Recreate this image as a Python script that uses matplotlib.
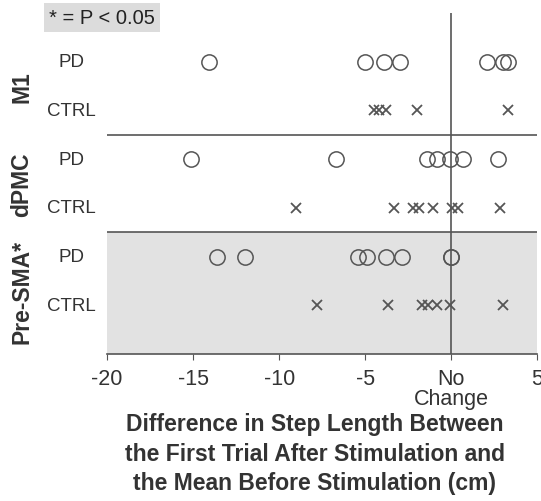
import matplotlib.pyplot as plt

plt.rcParams['font.family'] = ['Liberation Sans', 'DejaVu Sans']

# step length differences (cm)
m1_pd = [-14.1, -5.0, -3.9, -3.0, 2.1, 3.0, 3.3]
m1_ctrl = [-4.5, -4.2, -3.8, -2.0, 3.3]
dpmc_pd = [-15.1, -6.7, -1.4, -0.8, -0.05, 0.7, 2.7]
dpmc_ctrl = [-9.0, -3.3, -2.2, -1.9, -1.05, 0.05, 0.4, 2.85]
presma_pd = [-13.6, -12.0, -5.4, -4.9, -3.8, -2.85, 0.0, 0.0]
presma_ctrl = [-7.8, -3.7, -1.7, -1.35, -0.8, -0.05, 3.0]

groups = ["M1", "dPMC", "Pre-SMA*"]
xticks = [-20, -15, -10, -5, 0, 5]
xticklabels = ["-20", "-15", "-10", "-5", "No\nChange", "5"]

fig = plt.figure(figsize=(5.41, 5.02), dpi=100)
ax = fig.add_axes([0.198, 0.293, 0.795, 0.679])

col = '#555555'
txt = '#333333'
ax.axhspan(0, 2.5, color='#e2e2e2', zorder=0, lw=0)
ax.axhline(4.5, color=col, lw=1.2)
ax.axhline(2.5, color=col, lw=1.2)
ax.axvline(0, color=col, lw=1.2)

rows = [(m1_pd, 6, 'o'), (m1_ctrl, 5, 'x'),
        (dpmc_pd, 4, 'o'), (dpmc_ctrl, 3, 'x'),
        (presma_pd, 2, 'o'), (presma_ctrl, 1, 'x')]
for vals, y, m in rows:
    if m == 'o':
        ax.plot(vals, [y] * len(vals), 'o', ms=11, mfc='none', mec=col, mew=1.1, ls='none')
    else:
        ax.plot(vals, [y] * len(vals), 'x', ms=7.5, mec=col, mew=1.3, ls='none')

ax.set_xlim(-20, 5)
ax.set_ylim(0, 7)
for s in ['top', 'right', 'left']:
    ax.spines[s].set_visible(False)
ax.spines['bottom'].set_color(col)
ax.spines['bottom'].set_linewidth(1.2)
ax.set_yticks([])
ax.set_xticks(xticks)
ax.set_xticklabels(xticklabels, fontsize=15.5, color=txt, linespacing=0.95)
ax.tick_params(axis='x', length=4, color=col, pad=6)

# row labels
for y, lab in [(6, "PD"), (5, "CTRL"), (4, "PD"), (3, "CTRL"), (2, "PD"), (1, "CTRL")]:
    ax.text(-0.083, y, lab, transform=ax.get_yaxis_transform(), fontsize=13.5,
            color=txt, va='center', ha='center')
for i, g in enumerate(groups):
    yc = 5.5 - 2 * i if i < 2 else 1.3
    ax.text(-0.198, yc, g, transform=ax.get_yaxis_transform(), fontsize=16.5,
            fontweight='bold', color=txt, rotation=90, va='center', ha='center')

fig.text(0.189, 0.964, "* = P < 0.05", fontsize=14.5, color='#222222', ha='center', va='center',
         bbox=dict(boxstyle='square,pad=0.25', fc='#dcdcdc', ec='none'))

fig.text(0.582, 0.014, "Difference in Step Length Between\nthe First Trial After Stimulation and\nthe Mean Before Stimulation (cm)",
         fontsize=16.5, fontweight='bold', color=txt, ha='center', va='bottom', linespacing=1.35)

fig.savefig("out.png", dpi=100, facecolor='white')
